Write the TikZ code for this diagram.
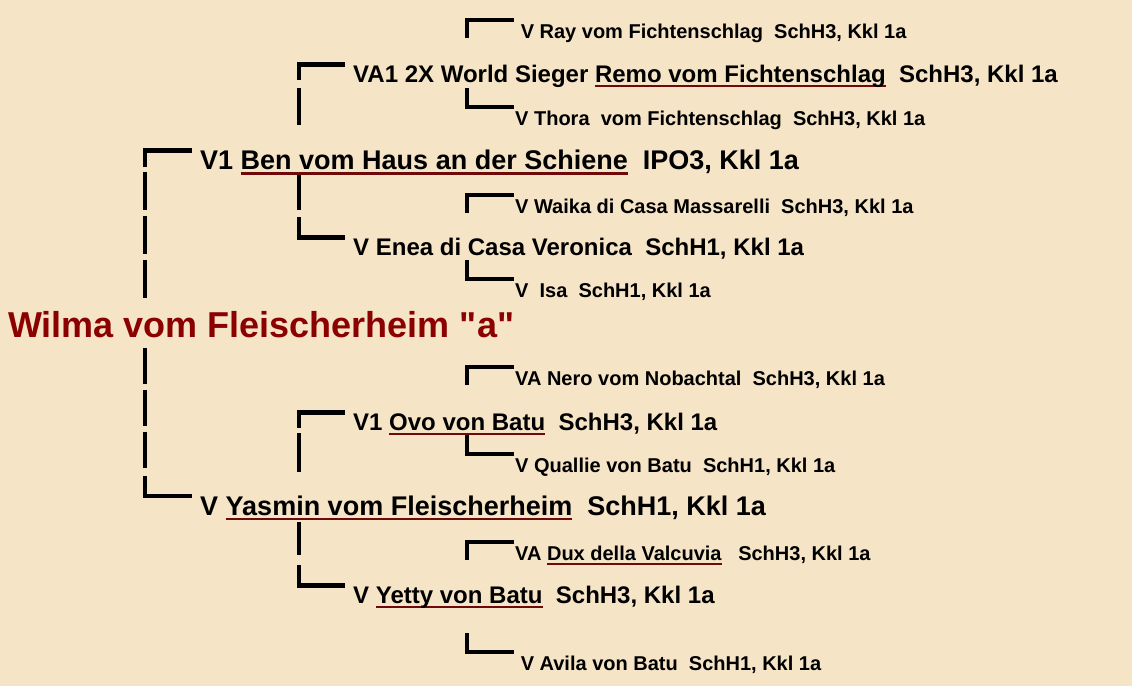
\documentclass[tikz,border=0pt]{standalone}
\usepackage{fontspec}
\setmainfont{Liberation Sans}
\newfontfamily\plainsans{Liberation Sans}
\definecolor{paper}{RGB}{245,228,198}
\definecolor{wine}{RGB}{139,0,0}
\definecolor{uline}{RGB}{110,10,10}
% name underlined in dark red, text stays black
\newcommand\nameline[1]{\setbox0\hbox{#1}\rlap{\color{uline}\rule[-5pt]{\wd0}{2.5pt}}\box0}

\begin{document}
\begin{tikzpicture}[x=1pt,y=-1pt,
    gen1/.style={anchor=base west,inner ysep=0pt,inner xsep=8pt,font=\fontsize{27}{30}\selectfont\bfseries},
    gen2/.style={anchor=base west,inner ysep=0pt,inner xsep=8pt,font=\fontsize{24}{28}\selectfont\bfseries},
    gen3/.style={anchor=base west,inner ysep=0pt,inner xsep=1pt,font=\fontsize{20}{24}\selectfont\bfseries},
    bar/.style={line width=4.5pt,line join=miter},
    elbow/.style={to path={|- (\tikztotarget)}},
    rail/.style={line width=4.5pt}]
   \fill[paper] (0,0) rectangle (1132,686);
   % columns of the brackets
   \coordinate (c1) at (145,0);
   \coordinate (c2) at (299,0);
   \coordinate (c3) at (467,0);
   \node[anchor=base west,inner sep=0pt,text=wine,font=\plainsans\fontsize{36}{40}\selectfont\bfseries] (wilma) at (8,337) {Wilma vom Fleischerheim "a"};
   \node[gen1] (ben)    at (192,169.5) {V1 \nameline{Ben vom Haus an der Schiene}\ \ IPO3, Kkl 1a};
   \node[gen1] (yasmin) at (192,515) {V \nameline{Yasmin vom Fleischerheim}\ \ SchH1, Kkl 1a};
   \node[gen2] (remo)   at (345,82) {VA1 2X World Sieger \nameline{Remo vom Fichtenschlag}\ \ SchH3, Kkl 1a};
   \node[gen2] (enea)   at (345,255) {V Enea di Casa Veronica\ \ SchH1, Kkl 1a};
   \node[gen2] (ovo)    at (345,430) {V1 \nameline{Ovo von Batu}\ \ SchH3, Kkl 1a};
   \node[gen2] (yetty)  at (345,603) {V \nameline{Yetty von Batu}\ \ SchH3, Kkl 1a};
   \node[gen3] (ray)    at (514,38) {~V Ray vom Fichtenschlag\ \ SchH3, Kkl 1a};
   \node[gen3] (thora)  at (514,125) {V Thora\ \ vom Fichtenschlag\ \ SchH3, Kkl 1a};
   \node[gen3] (waika)  at (514,213) {V Waika di Casa Massarelli\ \ SchH3, Kkl 1a};
   \node[gen3] (isa)    at (514,297) {V\ \ Isa\ \ SchH1, Kkl 1a};
   \node[gen3] (nero)   at (514,385) {VA Nero vom Nobachtal\ \ SchH3, Kkl 1a};
   \node[gen3] (quallie) at (514,472) {V Quallie von Batu\ \ SchH1, Kkl 1a};
   \node[gen3] (dux)    at (514,560) {VA \nameline{Dux della Valcuvia}\ \ \ SchH3, Kkl 1a};
   \node[gen3] (avila)  at (514,670) {~V Avila von Batu\ \ SchH1, Kkl 1a};
   % loose pieces of the long bars
   \coordinate (r1a) at (145,172); \coordinate (r1b) at (145,298);
   \coordinate (r2a) at (145,348); \coordinate (r2b) at (145,468);
   \coordinate (r3a) at (299,88);  \coordinate (r3b) at (299,125);
   \coordinate (r4a) at (299,175); \coordinate (r4b) at (299,210);
   \coordinate (r5a) at (299,433); \coordinate (r5b) at (299,472);
   \coordinate (r6a) at (299,522); \coordinate (r6b) at (299,555);
   \path[bar]
        ([yshift=2.5pt]ben.base west -| c1) edge[elbow] ([yshift=19pt]ben.base west)
        ([yshift=39pt]yasmin.base west -| c1) edge[elbow] ([yshift=19pt]yasmin.base west)
        ([yshift=2pt]remo.base west -| c2) edge[elbow] ([yshift=17.5pt]remo.base west)
        ([yshift=38pt]enea.base west -| c2) edge[elbow] ([yshift=17.5pt]enea.base west)
        ([yshift=2pt]ovo.base west -| c2) edge[elbow] ([yshift=17.5pt]ovo.base west)
        ([yshift=38pt]yetty.base west -| c2) edge[elbow] ([yshift=17.5pt]yetty.base west)
        (ray.base west -| c3) edge[elbow] ([yshift=18pt]ray.base west)
        ([yshift=37pt]thora.base west -| c3) edge[elbow] ([yshift=18pt]thora.base west)
        (waika.base west -| c3) edge[elbow] ([yshift=18pt]waika.base west)
        ([yshift=37pt]isa.base west -| c3) edge[elbow] ([yshift=18pt]isa.base west)
        (nero.base west -| c3) edge[elbow] ([yshift=18pt]nero.base west)
        ([yshift=37pt]quallie.base west -| c3) edge[elbow] ([yshift=18pt]quallie.base west)
        (dux.base west -| c3) edge[elbow] ([yshift=18pt]dux.base west)
        ([yshift=37pt]avila.base west -| c3) edge[elbow] ([yshift=18pt]avila.base west);
   \path[rail]
        (r1a) edge[dash pattern=on 38pt off 6pt] (r1b)
        (r2a) edge[dash pattern=on 36pt off 6pt] (r2b)
        (r3a) edge (r3b)
        (r4a) edge (r4b)
        (r5a) edge (r5b)
        (r6a) edge (r6b);
\end{tikzpicture}
\end{document}
